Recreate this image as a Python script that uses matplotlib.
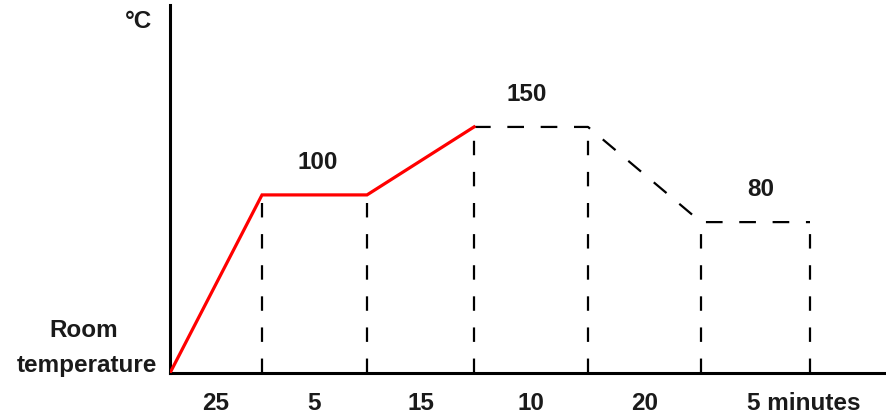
import matplotlib.pyplot as plt
import numpy as np

# heating programme (schematic)
durations = [25, 5, 15, 10, 20, 5]          # minutes per step
levels = [100, 150, 80]                      # hold temperatures, degC
room_temp = -31                              # room temperature sits on the axis
temps = [room_temp, 100, 100, 150, 150, 80, 80]
n_red = 4                                    # first points drawn in red (ramp up)
seg_width = [92, 105, 107, 114, 113, 109]    # schematic widths of the steps
level_seg = [1, 3, 5]                        # segment holding each level
level_dx = [3, -4, 5]                        # small label nudges

plt.rcParams['font.family'] = ['Liberation Sans', 'DejaVu Sans']
FS = 17.5
TXT = '#1a1a1a'

fig = plt.figure(figsize=(8.86, 4.14), dpi=100)
ax = fig.add_axes([170 / 886, 40 / 414, 1 - 170 / 886, 368 / 414])

x = np.concatenate([[0], np.cumsum(seg_width)])

ax.plot(x[:n_red], temps[:n_red], color='#ff0000', lw=2.3, solid_joinstyle='miter', zorder=3)
ax.plot(x[n_red - 1:], temps[n_red - 1:], color='black', lw=1.6, dashes=(7.5, 7.5), zorder=2)

for xi, ti in zip(x[1:], temps[1:]):
    ax.plot([xi, xi], [room_temp, ti], color='black', lw=1.6, dashes=(6.5, 7.5))

ax.set_xlim(0, 716)
ax.set_ylim(room_temp, 239.7)

# step durations under the axis
mids = (x[:-1] + x[1:]) / 2
for i, (m, d) in enumerate(zip(mids, durations)):
    if i == len(durations) - 1:
        ax.annotate(f'{d} minutes', xy=(m, 0), xycoords=('data', 'axes fraction'),
                    xytext=(-6, -21), textcoords='offset points', ha='left', va='center',
                    fontsize=FS, fontweight='bold', color=TXT)
    else:
        ax.annotate(str(d), xy=(m, 0), xycoords=('data', 'axes fraction'),
                    xytext=(0, -21), textcoords='offset points', ha='center', va='center',
                    fontsize=FS, fontweight='bold', color=TXT)

# hold temperatures above the plateaus
for i, lv, dx in zip(level_seg, levels, level_dx):
    ax.annotate(str(lv), xy=(mids[i] + dx, lv), xytext=(0, 24), textcoords='offset points',
                ha='center', va='center', fontsize=FS, fontweight='bold', color=TXT)

ax.annotate('°C', xy=(0, 1), xycoords='axes fraction', xytext=(-13, -11),
            textcoords='offset points', ha='right', va='center',
            fontsize=FS, fontweight='bold', color=TXT)
ax.annotate('Room', xy=(0, 0), xycoords='axes fraction', xytext=(-62, 31),
            textcoords='offset points', ha='center', va='center',
            fontsize=FS, fontweight='bold', color=TXT)
ax.annotate('temperature', xy=(0, 0), xycoords='axes fraction', xytext=(-9, 6),
            textcoords='offset points', ha='right', va='center',
            fontsize=FS, fontweight='bold', color=TXT)

for s in ['top', 'right']:
    ax.spines[s].set_visible(False)
for s in ['left', 'bottom']:
    ax.spines[s].set_linewidth(2.2)
ax.set_xticks([])
ax.set_yticks([])

fig.savefig('out.png', dpi=100)
